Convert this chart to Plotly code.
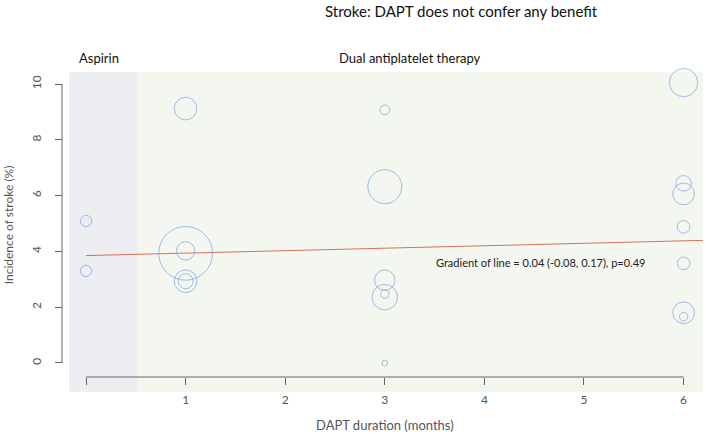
import plotly.graph_objects as go

# ---- data ----
duration = [0, 0,
            1, 1, 1, 1, 1,
            3, 3, 3, 3, 3, 3,
            6, 6, 6, 6, 6, 6, 6]
incidence = [5.09, 3.30,
             9.12, 3.93, 4.02, 2.93, 2.93,
             9.07, 6.32, 2.97, 2.36, 2.47, 0.0,
             10.05, 6.44, 6.06, 4.88, 3.57, 1.80, 1.66]
weight = [16, 16,
          64, 361, 42, 64, 28,
          12, 144, 52, 81, 9, 4,
          100, 30, 59, 20, 20, 59, 9]
fit_intercept = 3.85
fit_slope = 0.088
x_tick_vals = [0, 1, 2, 3, 4, 5, 6]
x_tick_text = ["", "1", "2", "3", "4", "5", "6"]
y_tick_vals = [0, 2, 4, 6, 8, 10]
gradient_text = "Gradient of line = 0.04 (-0.08, 0.17), p=0.49"

FONT = "Lato"
GREY = "#555555"

x_range = [-0.171, 6.195]
y_range = [-0.502, 10.43]
split = 0.52

fig = go.Figure()

# regression line
line_x = [0, 6.24]
line_y = [fit_intercept + fit_slope * v for v in line_x]
fig.add_trace(go.Scatter(x=line_x, y=line_y, mode="lines",
                         line=dict(color="#d9705a", width=1),
                         cliponaxis=False, hoverinfo="skip", showlegend=False))

fig.add_trace(go.Scatter(
    x=duration, y=incidence, mode="markers",
    marker=dict(size=weight, sizemode="area", sizeref=0.25,
                color="rgba(0,0,0,0)",
                line=dict(color="#7ea2e3", width=1)),
    cliponaxis=False, showlegend=False))

shapes = [
    dict(type="rect", xref="x", yref="paper", x0=x_range[0], x1=split,
         y0=-0.049, y1=1, fillcolor="#eceef2", line=dict(width=0), layer="below"),
    dict(type="rect", xref="x", yref="paper", x0=split, x1=x_range[1],
         y0=-0.049, y1=1, fillcolor="#f4f6f0", line=dict(width=0), layer="below"),
    dict(type="line", xref="paper", yref="y", x0=0, x1=0, y0=0, y1=10,
         line=dict(color="#666666", width=1)),
    dict(type="line", xref="x", yref="paper", x0=0, x1=6, y0=0, y1=0,
         line=dict(color="#666666", width=1)),
]

annotations = [
    dict(text="Stroke: DAPT does not confer any benefit", xref="paper", yref="paper",
         x=0.624, y=1.2, showarrow=False, font=dict(size=15, color="#111111", family=FONT),
         xanchor="center", yanchor="middle"),
    dict(text="Aspirin", xref="paper", yref="paper", x=0.0234, y=1.046,
         showarrow=False, font=dict(size=13, color="#111111", family=FONT),
         xanchor="left", yanchor="middle"),
    dict(text="Dual antiplatelet therapy", xref="paper", yref="paper", x=0.543, y=1.046,
         showarrow=False, font=dict(size=13, color="#111111", family=FONT),
         xanchor="center", yanchor="middle"),
    dict(text="Incidence of stroke (%)", xref="paper", yref="paper", x=-0.083, y=0.5,
         textangle=-90, showarrow=False, font=dict(size=12, color=GREY, family=FONT),
         xanchor="center", yanchor="middle"),
    dict(text="DAPT duration (months)", xref="paper", yref="paper", x=0.504, y=-0.157,
         showarrow=False, font=dict(size=13, color=GREY, family=FONT),
         xanchor="center", yanchor="middle"),
    dict(text=gradient_text, xref="paper", yref="paper", x=0.580, y=0.377,
         showarrow=False, font=dict(size=11, color="#222222", family=FONT),
         xanchor="left", yanchor="middle"),
]

fig.update_layout(
    width=708, height=440,
    margin=dict(l=62, r=5, t=72, b=63, autoexpand=False),
    paper_bgcolor="white", plot_bgcolor="white",
    font=dict(family=FONT, color=GREY, size=12),
    shapes=shapes, annotations=annotations,
    xaxis=dict(domain=[7 / 641, 1], range=x_range, showgrid=False, zeroline=False,
               showline=False, ticks="outside", ticklen=7, tickcolor="#666666", tickwidth=1,
               tickvals=x_tick_vals, ticktext=x_tick_text, ticklabelstandoff=5,
               automargin=False,
               tickfont=dict(size=12, color=GREY, family=FONT)),
    yaxis=dict(anchor="free", position=0, range=y_range, showgrid=False, zeroline=False,
               showline=False, ticks="outside", ticklen=7, tickcolor="#666666", tickwidth=1,
               tickvals=y_tick_vals, tickangle=-90, ticklabelstandoff=9,
               automargin=False,
               tickfont=dict(size=12, color=GREY, family=FONT)),
    hovermode=False,
)

fig.write_html("out.html", config={"displayModeBar": False},
               post_script="document.body.style.margin='0';document.body.style.padding='0';")
